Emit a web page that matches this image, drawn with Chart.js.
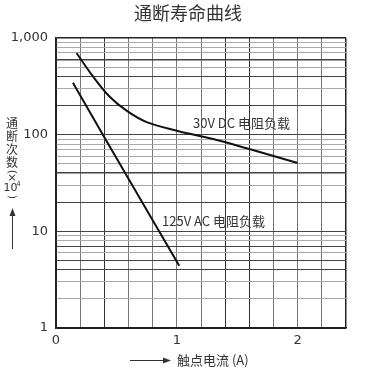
<!DOCTYPE html>
<html lang="zh-cn">
<head>
    <meta charset="UTF-8">
    <title>通断寿命曲线</title>
    <script src="https://cdn.jsdelivr.net/npm/chart.js"></script>
    <style>
        body { margin: 0; background: #fff; }
        #box { width: 387px; height: 376px; }
    </style>
</head>
<body>
<div id="box"><canvas id="grafico"></canvas></div>

<script>
    // dados
    const dcCorrente = [0.17, 0.3, 0.44, 0.59, 0.75, 1.0, 1.3, 1.6, 2.0];
    const dcVida = [700, 410, 250, 175, 135, 110, 90, 71, 51];
    const acCorrente = [0.14, 0.4, 0.6, 0.8, 1.02];
    const acVida = [345, 94, 35, 13, 4.4];

    const xGrade = [0, 0.2, 0.4, 0.6, 0.8, 1, 1.2, 1.4, 1.6, 1.8, 2, 2.2, 2.4];
    const xRotulos = [0, 1, 2];
    const yDecadas = [1, 10, 100];
    const yMultiplos = [1, 2, 3, 4, 5, 6, 7, 8, 9];
    const yRotulos = { 1: '1', 10: '10', 100: '100', 1000: '1,000' };

    const yGrade = [];
    yDecadas.forEach(d => yMultiplos.forEach(m => yGrade.push(d * m)));
    yGrade.push(1000);

    const xEscuras = [0.4, 1.4, 1.6];
    const yEscuras = [1, 4, 5, 7, 10, 20, 40, 100, 200, 400, 600, 1000];

    function pontos(xs, ys) {
        return xs.map((x, i) => ({ x: x, y: ys[i] }));
    }

    // parentese deitado para o titulo vertical
    function parenteseDeitado(ctx, ch, x, y) {
        ctx.save();
        ctx.translate(x, y);
        ctx.rotate(Math.PI / 2);
        ctx.fillText(ch, 0, 0);
        ctx.restore();
    }

    const textos = {
        id: 'textos',
        afterDraw(chart) {
            const ctx = chart.ctx;
            ctx.save();
            ctx.fillStyle = '#333';
            ctx.textBaseline = 'middle';

            // titulo
            ctx.textAlign = 'center';
            ctx.font = '18px "Noto Sans CJK SC"';
            ctx.fillText('通断寿命曲线', 188, 13);

            // rotulos das curvas
            ctx.textAlign = 'left';
            ctx.font = '13px "Noto Sans CJK SC"';
            ctx.fillText('30V DC 电阻负载', 193, 123);
            ctx.fillText('125V AC 电阻负载', 162, 221);

            // titulo eixo y (vertical)
            ctx.textAlign = 'center';
            ctx.font = '12px "Noto Sans CJK SC"';
            ['通', '断', '次', '数'].forEach((c, i) => ctx.fillText(c, 12, 123 + i * 13));
            ctx.font = '11px "DejaVu Sans"';
            parenteseDeitado(ctx, '(', 12, 172);
            ctx.fillText('×', 12, 178.5);
            ctx.font = '11px "DejaVu Sans"';
            ctx.fillText('10', 10.5, 188);
            ctx.font = '7px "DejaVu Sans"';
            ctx.fillText('4', 18.5, 184);
            ctx.font = '11px "DejaVu Sans"';
            parenteseDeitado(ctx, ')', 12, 197);

            ctx.strokeStyle = '#333';
            ctx.lineWidth = 1;
            ctx.beginPath();
            ctx.moveTo(12.5, 249);
            ctx.lineTo(12.5, 214);
            ctx.stroke();
            ctx.beginPath();
            ctx.moveTo(12.5, 208);
            ctx.lineTo(9.5, 216);
            ctx.lineTo(15.5, 216);
            ctx.closePath();
            ctx.fill();

            // titulo eixo x
            ctx.beginPath();
            ctx.moveTo(130, 360.5);
            ctx.lineTo(165, 360.5);
            ctx.stroke();
            ctx.beginPath();
            ctx.moveTo(171, 360.5);
            ctx.lineTo(163, 357.5);
            ctx.lineTo(163, 363.5);
            ctx.closePath();
            ctx.fill();

            ctx.textAlign = 'left';
            ctx.font = '13px "Noto Sans CJK SC"';
            ctx.fillText('触点电流 (A)', 177, 360);
            ctx.restore();
        }
    };

    const config = {
        type: 'line',
        data: {
            datasets: [{
                label: '30V DC',
                data: pontos(dcCorrente, dcVida),
                borderColor: '#111',
                borderWidth: 2,
                pointRadius: 0,
                tension: 0.35,
                fill: false
            }, {
                label: '125V AC',
                data: pontos(acCorrente, acVida),
                borderColor: '#111',
                borderWidth: 2,
                pointRadius: 0,
                tension: 0,
                fill: false
            }]
        },
        options: {
            responsive: false,
            animation: false,
            devicePixelRatio: 1,
            layout: { padding: { top: 38, right: 41, left: 0, bottom: 0 } },
            plugins: {
                legend: { display: false },
                tooltip: { enabled: false }
            },
            scales: {
                x: {
                    type: 'linear',
                    min: 0,
                    max: 2.4,
                    afterBuildTicks: scale => { scale.ticks = xGrade.map(v => ({ value: v })); },
                    afterFit: scale => { scale.height = 48; },
                    ticks: {
                        padding: 5,
                        color: '#333',
                        font: { family: 'DejaVu Sans', size: 13 },
                        maxRotation: 0,
                        autoSkip: false,
                        callback: v => xRotulos.some(r => Math.abs(r - v) < 1e-6) ? String(Math.round(v)) : ''
                    },
                    grid: {
                        drawTicks: false,
                        color: ctx => {
                            const v = ctx.tick.value;
                            if (v === 0 || v === 2.4) return '#222';
                            return xEscuras.some(e => Math.abs(e - v) < 1e-6) ? '#333' : '#777';
                        },
                        lineWidth: ctx => (ctx.tick.value === 2.4 ? 1.5 : 1)
                    },
                    border: { color: '#222', width: 1.5 }
                },
                y: {
                    type: 'logarithmic',
                    min: 1,
                    max: 1000,
                    afterBuildTicks: scale => { scale.ticks = yGrade.map(v => ({ value: v })); },
                    afterFit: scale => { scale.width = 56; },
                    ticks: {
                        padding: 8,
                        color: '#333',
                        font: { family: 'DejaVu Sans', size: 13 },
                        autoSkip: false,
                        callback: v => yRotulos[v] || ''
                    },
                    grid: {
                        drawTicks: false,
                        color: ctx => {
                            const v = ctx.tick.value;
                            if (v === 1000 || v === 1) return '#222';
                            return yEscuras.includes(v) ? '#444' : '#aaa';
                        },
                        lineWidth: ctx => {
                            const v = ctx.tick.value;
                            return (v === 1000 || v === 600 || v === 40) ? 1.5 : 1;
                        }
                    },
                    border: { color: '#222', width: 1.5 }
                }
            }
        },
        plugins: [textos]
    };

    const canvas = document.getElementById('grafico');
    canvas.width = 387;
    canvas.height = 376;
    new Chart(canvas, config);
</script>
</body>
</html>
